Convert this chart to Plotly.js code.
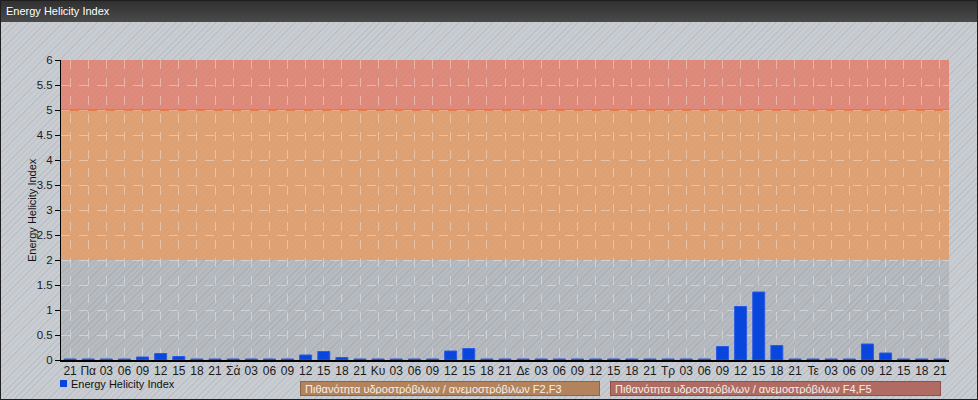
<!DOCTYPE html>
<html>
<head>
<meta charset="utf-8">
<script src="https://cdn.plot.ly/plotly-3.0.1.min.js"></script>
<style>
  html, body { margin: 0; padding: 0; }
  body {
    width: 978px; height: 400px; overflow: hidden; position: relative;
    background-color: #c9cdd2;
    background-image: repeating-linear-gradient(135deg, rgba(150,162,176,0.3) 0px, rgba(150,162,176,0.3) 1px, rgba(0,0,0,0) 1px, rgba(0,0,0,0) 4px);
  }
  #hdr { position: absolute; left: 0; top: 0; width: 978px; height: 22px;
         background: linear-gradient(#2f2f2f, #4a4a4a); z-index: 0; }
  #chart { position: absolute; left: 0; top: 0; width: 978px; height: 400px; z-index: 1; }
  #frame { position: absolute; left: 0; top: 0; width: 978px; height: 400px; box-sizing: border-box;
           border: 1px solid #1e1e1e; z-index: 2; pointer-events: none; }
</style>
</head>
<body>
<div id="hdr"></div>
<div id="chart"></div>
<div id="frame"></div>
<script>
// ---- data ----
const chartTitle = "Energy Helicity Index";
const seriesName = "Energy Helicity Index";
const tickLabels = ["21","Πα","03","06","09","12","15","18",
                    "21","Σά","03","06","09","12","15","18",
                    "21","Κυ","03","06","09","12","15","18",
                    "21","Δε","03","06","09","12","15","18",
                    "21","Τρ","03","06","09","12","15","18",
                    "21","Τε","03","06","09","12","15","18","21"];
const helicity = [0.02,0.02,0.02,0.02,0.06,0.13,0.07,0.02,
                  0.02,0.02,0.02,0.02,0.02,0.10,0.17,0.05,
                  0.02,0.02,0.02,0.02,0.02,0.18,0.23,0.02,
                  0.02,0.02,0.02,0.02,0.02,0.02,0.02,0.02,
                  0.02,0.02,0.02,0.02,0.27,1.07,1.36,0.29,
                  0.02,0.02,0.02,0.02,0.32,0.14,0.02,0.02,0.02];
const bandLabels = ["Πιθανότητα υδροστρόβιλων / ανεμοστρόβιλων F2,F3",
                    "Πιθανότητα υδροστρόβιλων / ανεμοστρόβιλων F4,F5"];
const bandRanges = [[2, 5], [5, 6]];
const yTicks = [0,0.5,1,1.5,2,2.5,3,3.5,4,4.5,5,5.5,6];

const idx = tickLabels.map((_, i) => i);
const barColor = '#0846dc';

const trace = {
  type: 'bar', x: idx, y: helicity, name: seriesName,
  width: 0.66,
  marker: { color: barColor, line: { color: '#2a5ae6', width: 1 } },
  hoverinfo: 'y', showlegend: false
};

const FF = 'Liberation Sans, Arial, sans-serif';
const font = { family: FF, size: 12, color: '#1a1a1a' };
const gridCol = 'rgba(255,255,255,0.36)';
const PL = 61, PR = 949, PT = 60, PB = 360;
const px = v => (v - PL) / (PR - PL);
const py = v => (PB - v) / (PB - PT);

const layout = {
  width: 978, height: 400,
  margin: { l: PL, r: 978 - PR, t: PT, b: 400 - PB, pad: 0 },
  paper_bgcolor: 'rgba(0,0,0,0)',
  plot_bgcolor: 'rgba(60,70,80,0.13)',
  font: font,
  title: { text: chartTitle, font: { family: FF, size: 11, color: '#ffffff' },
           xref: 'container', yref: 'container', x: 6/978, xanchor: 'left', y: 1 - 11.5/400, yanchor: 'middle' },
  showlegend: false,
  xaxis: {
    range: [-0.5, tickLabels.length - 0.5],
    tickmode: 'array', tickvals: idx, ticktext: tickLabels,
    showgrid: true, gridcolor: gridCol, griddash: 'dash', gridwidth: 1,
    showline: true, linecolor: '#000', linewidth: 2,
    ticks: '', zeroline: false, fixedrange: true, automargin: false,
    ticklabelstandoff: -1,
    tickfont: { family: FF, size: 12, color: '#1a1a1a' }
  },
  yaxis: {
    range: [0, 6], tickmode: 'array', tickvals: yTicks,
    showgrid: true, gridcolor: gridCol, griddash: 'dash', gridwidth: 1,
    showline: true, linecolor: '#000', linewidth: 1,
    ticks: 'outside', ticklen: 5, tickcolor: '#000', zeroline: false, fixedrange: true, automargin: false,
    tickfont: { family: FF, size: 11.5, color: '#1a1a1a' }
  },
  shapes: [
    { type: 'rect', xref: 'paper', yref: 'y', x0: 0, x1: 1, y0: bandRanges[0][0], y1: bandRanges[0][1],
      fillcolor: 'rgba(238,152,86,0.72)', line: { width: 0 }, layer: 'below' },
    { type: 'rect', xref: 'paper', yref: 'y', x0: 0, x1: 1, y0: bandRanges[1][0], y1: bandRanges[1][1],
      fillcolor: 'rgba(240,118,94,0.70)', line: { width: 0 }, layer: 'below' },
    { type: 'line', xref: 'paper', yref: 'y', x0: 0, x1: 1, y0: bandRanges[1][0], y1: bandRanges[1][0],
      line: { color: '#e8703c', width: 1.5 }, layer: 'below' },
    // legend swatch
    { type: 'rect', xref: 'paper', yref: 'paper', x0: px(60), x1: px(67), y0: py(387), y1: py(380),
      fillcolor: barColor, line: { width: 0 } }
  ],
  annotations: [
    { xref: 'paper', yref: 'paper', x: px(32), y: 0.5, xanchor: 'center', yanchor: 'middle',
      text: seriesName, textangle: -90, showarrow: false,
      font: { family: FF, size: 11, color: '#111' } },
    { xref: 'paper', yref: 'paper', x: px(69), y: py(383.5), xanchor: 'left', yanchor: 'middle',
      text: seriesName, showarrow: false,
      font: { family: FF, size: 11, color: '#111' } },
    { xref: 'paper', yref: 'paper', x: px(300), y: py(388), xanchor: 'left', yanchor: 'middle',
      text: '&nbsp;' + bandLabels[0], showarrow: false, align: 'left', width: 296, height: 11,
      bgcolor: '#b3835e', bordercolor: '#8c6446', borderwidth: 1, borderpad: 1,
      font: { family: FF, size: 11, color: '#f6f0e8' } },
    { xref: 'paper', yref: 'paper', x: px(610), y: py(388), xanchor: 'left', yanchor: 'middle',
      text: '&nbsp;' + bandLabels[1], showarrow: false, align: 'left', width: 327, height: 11,
      bgcolor: '#b06c62', bordercolor: '#8e5048', borderwidth: 1, borderpad: 1,
      font: { family: FF, size: 11, color: '#f6f0e8' } }
  ]
};

Plotly.newPlot('chart', [trace], layout, { displayModeBar: false, staticPlot: true });
</script>
</body>
</html>
